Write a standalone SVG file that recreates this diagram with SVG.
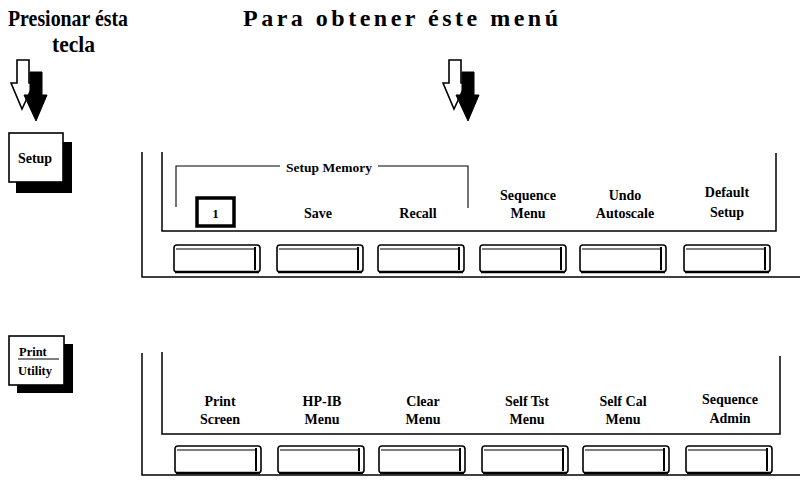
<svg xmlns="http://www.w3.org/2000/svg" xmlns:xlink="http://www.w3.org/1999/xlink" width="802" height="483" viewBox="0 0 802 483">
<style>
.t{font-family:"Liberation Serif","Times New Roman",serif;font-weight:bold;fill:#000}
.title{font-size:24px}
.lbl{font-size:14px;text-anchor:middle}
.ln{stroke:#000;stroke-width:1.5;fill:none}
.thin{stroke:#000;stroke-width:1.1;fill:none}
</style>
<defs>
<g id="keybtn">
<path d="M3,0 H83 Q86,0 86,3 V24 Q86,27 83,27 H3 Q0,27 0,24 V3 Q0,0 3,0 Z" fill="#fff" stroke="#000" stroke-width="1.6"/>
<path d="M2,4 H81" stroke="#000" stroke-width="1.1" fill="none"/>
<path d="M81,2 V25" stroke="#000" stroke-width="2" fill="none"/>
<path d="M1,27 H85" stroke="#000" stroke-width="2.6" fill="none"/>
</g>
<g id="arrowpair">
<path d="M6,0 H18 V23 H23 L11,49 L0,23 H6 Z" fill="#fff" stroke="#000" stroke-width="1.6"/>
<path d="M19,12 H31 V35 H36 L25,61 L13,35 H19 Z" fill="#000" stroke="#000" stroke-width="1"/>
</g>
</defs>

<g id="titles">
<text class="t title" x="8" y="26" textLength="120" lengthAdjust="spacingAndGlyphs">Presionar ésta</text>
<text class="t title" x="52" y="52" textLength="43" lengthAdjust="spacingAndGlyphs">tecla</text>
<text class="t title" x="243" y="26" textLength="315" lengthAdjust="spacing">Para obtener éste menú</text>
</g>

<g id="arrows">
<use xlink:href="#arrowpair" href="#arrowpair" x="11" y="60"/>
<use xlink:href="#arrowpair" href="#arrowpair" x="443" y="60"/>
</g>

<g id="setup-key">
<rect x="16" y="142" width="56" height="51" fill="#000"/>
<rect x="9" y="133" width="54" height="49" fill="#fff" stroke="#000" stroke-width="1.6"/>
<text class="t" x="35" y="163" font-size="14" text-anchor="middle">Setup</text>
</g>

<g id="print-utility-key">
<rect x="17" y="344" width="56" height="49" fill="#000"/>
<rect x="9" y="336" width="55" height="49" fill="#fff" stroke="#000" stroke-width="1.6"/>
<text class="t" x="19" y="356" font-size="12.5">Print</text>
<line x1="18" y1="359" x2="59" y2="359" stroke="#000" stroke-width="1.2"/>
<text class="t" x="18" y="375" font-size="12.5">Utility</text>
</g>

<g id="panel-setup">
<path class="ln" d="M142,152 V277 H800"/>
<path class="ln" d="M162,152 V231 H776 V153"/>
<path class="thin" d="M176,207 V166 H280 M378,166 H468 V208"/>
<text class="t" x="329" y="172" font-size="13.5" text-anchor="middle">Setup Memory</text>
<rect x="197" y="198" width="37" height="28" fill="#fff" stroke="#000" stroke-width="3.5"/>
<text class="t" x="215.5" y="218" font-size="13" text-anchor="middle">1</text>
<text class="t lbl" x="318" y="218">Save</text>
<text class="t lbl" x="418" y="218">Recall</text>
<text class="t lbl" x="528" y="200">Sequence</text>
<text class="t lbl" x="528" y="218">Menu</text>
<text class="t lbl" x="625" y="200">Undo</text>
<text class="t lbl" x="625" y="218">Autoscale</text>
<text class="t lbl" x="727" y="197">Default</text>
<text class="t lbl" x="727" y="217">Setup</text>
<use href="#keybtn" xlink:href="#keybtn" x="174" y="245"/>
<use href="#keybtn" xlink:href="#keybtn" x="277" y="245"/>
<use href="#keybtn" xlink:href="#keybtn" x="378" y="245"/>
<use href="#keybtn" xlink:href="#keybtn" x="480" y="245"/>
<use href="#keybtn" xlink:href="#keybtn" x="580" y="245"/>
<use href="#keybtn" xlink:href="#keybtn" x="684" y="245"/>
</g>

<g id="panel-utility">
<path class="ln" d="M142,353 V475 H800"/>
<path class="ln" d="M162,352 V434 H780 V356"/>
<text class="t lbl" x="220" y="406">Print</text>
<text class="t lbl" x="220" y="424">Screen</text>
<text class="t lbl" x="322" y="406">HP-IB</text>
<text class="t lbl" x="322" y="424">Menu</text>
<text class="t lbl" x="423" y="406">Clear</text>
<text class="t lbl" x="423" y="424">Menu</text>
<text class="t lbl" x="527" y="406">Self Tst</text>
<text class="t lbl" x="527" y="424">Menu</text>
<text class="t lbl" x="623" y="406">Self Cal</text>
<text class="t lbl" x="623" y="424">Menu</text>
<text class="t lbl" x="730" y="404">Sequence</text>
<text class="t lbl" x="730" y="423">Admin</text>
<use href="#keybtn" xlink:href="#keybtn" x="175" y="446"/>
<use href="#keybtn" xlink:href="#keybtn" x="278" y="446"/>
<use href="#keybtn" xlink:href="#keybtn" x="379" y="446"/>
<use href="#keybtn" xlink:href="#keybtn" x="482" y="446"/>
<use href="#keybtn" xlink:href="#keybtn" x="583" y="446"/>
<use href="#keybtn" xlink:href="#keybtn" x="686" y="446"/>
</g>
</svg>
